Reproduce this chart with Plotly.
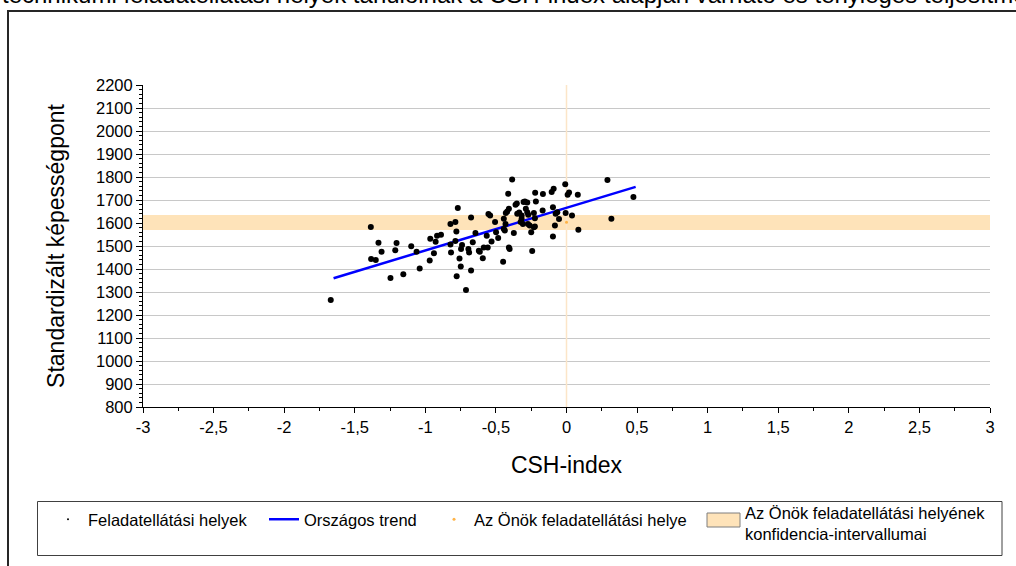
import plotly.graph_objects as go

# ---- data ----
csh = [-1.67, -1.386, -1.332, -1.384, -1.351, -1.31, -1.204, -1.213, -1.247, -1.156,
       -1.10, -1.062, -1.04, -0.969, -0.965, -0.939, -0.927, -0.917, -0.889, -0.822,
       -0.787, -0.770, -0.78, -0.822, -0.818, -0.787, -0.758, -0.749, -0.778, -0.712,
       -0.676, -0.74, -0.747, -0.695, -0.69, -0.676, -0.664, -0.645, -0.614, -0.593,
       -0.586, -0.558, -0.531, -0.553, -0.541, -0.506, -0.565, -0.484, -0.621, -0.499,
       -0.449, -0.437, -0.432, -0.444, -0.43, -0.42, -0.413, -0.408, -0.403, -0.385,
       -0.361, -0.352, -0.335, -0.325, -0.318, -0.304, -0.295, -0.288, -0.278, -0.309,
       -0.273, -0.261, -0.25, -0.243, -0.231, -0.224, -0.222, -0.217, -0.231, -0.167,
       -0.169, -0.105, -0.091, -0.009, 0.008, 0.018, 0.08, 0.29, 0.474, 0.318,
       0.084, 0.039, -0.006, -0.053, -0.082, -0.096, -0.065, -0.096, -0.077, -0.444,
       -0.408, -0.373, -0.349, -0.318, -0.278, -0.271, -0.224]
score = [1265, 1583, 1514, 1443, 1439, 1475, 1513, 1482, 1361, 1377,
         1499, 1475, 1402, 1437, 1531, 1468, 1519, 1545, 1549, 1596,
         1604, 1665, 1563, 1507, 1472, 1522, 1446, 1411, 1369, 1309,
         1394, 1504, 1487, 1487, 1472, 1624, 1516, 1557, 1475, 1447,
         1493, 1493, 1520, 1639, 1633, 1604, 1545, 1535, 1479, 1560,
         1431, 1567, 1596, 1618, 1643, 1650, 1727, 1494, 1487, 1789,
         1679, 1685, 1646, 1604, 1633, 1691, 1693, 1662, 1689, 1596,
         1596, 1589, 1560, 1478, 1644, 1621, 1732, 1694, 1582, 1726,
         1654, 1735, 1749, 1768, 1723, 1733, 1723, 1787, 1713, 1618,
         1571, 1633, 1644, 1617, 1589, 1541, 1647, 1669, 1640, 1574,
         1662, 1557, 1640, 1618, 1647, 1636, 1585]

trend_x = [-1.65, 0.49]
trend_y = [1360, 1757]

school_csh = 0.0
school_score = 1603
ci_low = 1570
ci_high = 1635

x_range = [-3, 3]
y_range = [800, 2200]
x_tickvals = [-3, -2.5, -2, -1.5, -1, -0.5, 0, 0.5, 1, 1.5, 2, 2.5, 3]
x_ticktext = ["-3", "-2,5", "-2", "-1,5", "-1", "-0,5", "0", "0,5", "1", "1,5", "2", "2,5", "3"]
y_tickvals = [800, 900, 1000, 1100, 1200, 1300, 1400, 1500, 1600, 1700, 1800, 1900, 2000, 2100, 2200]

legend_names = ["Feladatellátási helyek", "Országos trend", "Az Önök feladatellátási helye",
                "Az Önök feladatellátási helyének<br>konfidencia-intervallumai"]
top_text = "technikumi feladatellátási helyek tanulóinak a CSH-index alapján várható és tényleges teljesítménye"

# ---- layout geometry (pixels) ----
W, H = 1016, 566
L, R, T, B = 143, 990, 85, 407


def px2x(px):
    return (px - L) / (R - L)


def py2y(py):
    return (B - py) / (B - T)


FONT = "Liberation Sans, Arial, sans-serif"
BAND = "#FEE3B9"
FS = 16.5

fig = go.Figure()

# confidence band
fig.add_trace(go.Scatter(
    x=[x_range[0], x_range[1], x_range[1], x_range[0]],
    y=[ci_low, ci_low, ci_high, ci_high],
    fill="toself", fillcolor=BAND, mode="lines", line=dict(width=0),
    showlegend=False, hoverinfo="skip"))

# school CSH-index vertical line
fig.add_trace(go.Scatter(
    x=[school_csh, school_csh], y=y_range, mode="lines",
    line=dict(color="#FCE5C8", width=1.5), showlegend=False, hoverinfo="skip"))

# national trend
fig.add_trace(go.Scatter(
    x=trend_x, y=trend_y, mode="lines", name=legend_names[1],
    line=dict(color="#0000FF", width=2.5), legendrank=2, legendwidth=125))

# sites
fig.add_trace(go.Scatter(
    x=csh, y=score, mode="markers", showlegend=False,
    marker=dict(color="black", size=6)))

# legend-only entry for sites (tiny dot)
fig.add_trace(go.Scatter(
    x=[None], y=[None], mode="markers", name=legend_names[0],
    marker=dict(color="black", size=2), legendrank=1, legendwidth=171))

# school's own point
fig.add_trace(go.Scatter(
    x=[school_csh], y=[school_score], mode="markers", name=legend_names[2],
    marker=dict(color="#FFB347", size=3), legendrank=3, legendwidth=220))

shapes = [
    # outer frame
    dict(type="rect", xref="paper", yref="paper",
         x0=px2x(8), x1=px2x(1030), y0=py2y(590), y1=py2y(11),
         line=dict(color="#262626", width=2)),
    # legend box
    dict(type="rect", xref="paper", yref="paper",
         x0=px2x(37.5), x1=px2x(1002), y0=py2y(555.5), y1=py2y(501.5),
         line=dict(color="#404040", width=1)),
    # swatch for confidence-interval legend item
    dict(type="rect", xref="paper", yref="paper",
         x0=px2x(707), x1=px2x(740), y0=py2y(527), y1=py2y(513),
         fillcolor=BAND, line=dict(color="#7F7F7F", width=1)),
]

annotations = [
    dict(text=legend_names[3], xref="paper", yref="paper", x=px2x(743), y=py2y(523),
         xanchor="left", yanchor="middle", align="left", showarrow=False,
         font=dict(family=FONT, size=FS, color="black")),
    dict(text=top_text, xref="paper", yref="paper", x=px2x(0), y=py2y(-6),
         xanchor="left", yanchor="middle", showarrow=False,
         font=dict(family=FONT, size=24, color="black")),
]

fig.update_layout(
    width=W, height=H,
    margin=dict(l=L, r=W - R, t=T, b=H - B, autoexpand=False),
    paper_bgcolor="white", plot_bgcolor="white",
    font=dict(family=FONT, size=FS, color="black"),
    showlegend=True,
    legend=dict(orientation="h", x=px2x(48), xanchor="left", y=py2y(502), yanchor="top",
                font=dict(family=FONT, size=FS, color="black"),
                bgcolor="rgba(0,0,0,0)", borderwidth=0, itemsizing="trace",
                tracegroupgap=0),
    shapes=shapes, annotations=annotations,
    xaxis=dict(range=x_range, tickmode="array", tickvals=x_tickvals, ticktext=x_ticktext,
               showgrid=False, zeroline=False, showline=True, linecolor="black", linewidth=1,
               ticks="outside", ticklen=5, tickcolor="black",
               minor=dict(dtick=0.25, tick0=-3, ticklen=3, tickcolor="black", ticks="outside"),
               tickfont=dict(size=FS),
               title=dict(text="CSH-index", font=dict(size=23), standoff=22)),
    yaxis=dict(range=y_range, tickmode="array", tickvals=y_tickvals,
               showgrid=True, gridcolor="#C8C8C8", gridwidth=1, zeroline=False,
               showline=True, linecolor="black", linewidth=1,
               ticks="outside", ticklen=6, tickcolor="black",
               minor=dict(dtick=20, tick0=800, ticklen=3, tickcolor="black", ticks="outside",
                          showgrid=False),
               tickfont=dict(size=FS),
               title=dict(text="Standardizált képességpont", font=dict(size=23), standoff=24)),
)

fig.write_html("out.html", config={"displayModeBar": False},
               post_script="document.body.style.margin='0';")
